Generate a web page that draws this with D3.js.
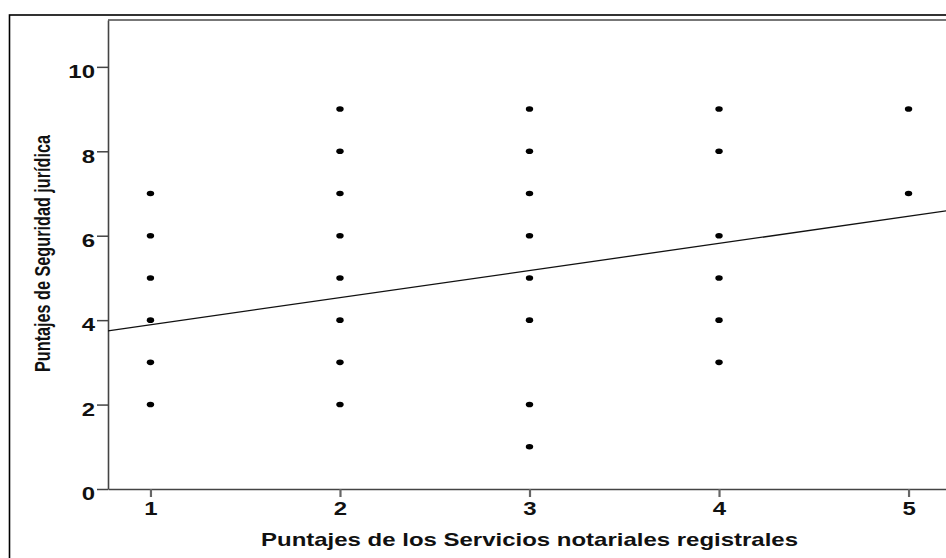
<!DOCTYPE html>
<html>
<head>
<meta charset="utf-8">
<script src="https://cdn.jsdelivr.net/npm/d3@7"></script>
<style>
  html, body { margin: 0; padding: 0; background: #fff; }
  svg { display: block; }
  text { font-family: "Liberation Sans", Arial, sans-serif; font-weight: bold; fill: #111; }
</style>
</head>
<body>
<svg id="chart" width="946" height="558"></svg>
<script>
// Observed scores: service score (x) and legal-certainty score (y)
const servicios = [1, 1, 1, 1, 1, 1,
                   2, 2, 2, 2, 2, 2, 2, 2,
                   3, 3, 3, 3, 3, 3, 3, 3,
                   4, 4, 4, 4, 4, 4,
                   5, 5];
const seguridad = [2, 3, 4, 5, 6, 7,
                   2, 3, 4, 5, 6, 7, 8, 9,
                   1, 2, 4, 5, 6, 7, 8, 9,
                   3, 4, 5, 6, 8, 9,
                   7, 9];

// Fitted linear trend: seguridad = intercepto + pendiente * servicios
const intercepto = 3.25;
const pendiente = 0.642;

const xTicks = [1, 2, 3, 4, 5];
const yTicks = [0, 2, 4, 6, 8, 10];
const xDomain = [0.776, 5.224];
const yDomain = [0, 11.11];

const xTitle = "Puntajes de los Servicios notariales registrales";
const yTitle = "Puntajes de Seguridad jurídica";

const svg = d3.select("#chart");
const W = 946, H = 558;
const plot = { left: 108, top: 20, right: 951, bottom: 489 };
const stretch = 1.33;

const x = d3.scaleLinear().domain(xDomain).range([plot.left, plot.right]);
const y = d3.scaleLinear().domain(yDomain).range([plot.bottom, plot.top]);

svg.append("rect").attr("width", W).attr("height", H).attr("fill", "#fff");

// Outer frame
svg.append("rect")
  .attr("x", 9.5).attr("y", 15)
  .attr("width", 960).attr("height", 560)
  .attr("fill", "none").attr("stroke", "#000").attr("stroke-width", 1.6);

// Plot frame top edge
svg.append("line")
  .attr("x1", plot.left).attr("x2", plot.right)
  .attr("y1", plot.top).attr("y2", plot.top)
  .attr("stroke", "#777").attr("stroke-width", 2);

// Widen glyphs horizontally
function widen(sel, k) {
  sel.each(function () {
    const w = this.getComputedTextLength();
    d3.select(this).attr("textLength", w * k).attr("lengthAdjust", "spacingAndGlyphs");
  });
}

const tickFont = 18;

// Y axis
const yAxis = d3.axisLeft(y).tickValues(yTicks).tickSize(11).tickSizeOuter(0)
  .tickPadding(2).tickFormat(d3.format("d"));
const gy = svg.append("g").attr("transform", `translate(${plot.left},0)`).call(yAxis);
gy.select(".domain").attr("stroke", "#444").attr("stroke-width", 1.6);
gy.selectAll(".tick line").attr("stroke", "#444").attr("stroke-width", 1.5);
gy.selectAll(".tick text")
  .attr("font-size", tickFont).attr("font-family", "Liberation Sans, Arial, sans-serif")
  .attr("font-weight", "bold").attr("fill", "#111")
  .attr("dy", "0.6em").call(widen, stretch);

// X axis
const xAxis = d3.axisBottom(x).tickValues(xTicks).tickSize(8).tickSizeOuter(0)
  .tickPadding(5).tickFormat(d3.format("d"));
const gx = svg.append("g").attr("transform", `translate(0,${plot.bottom})`).call(xAxis);
gx.select(".domain").attr("stroke", "#444").attr("stroke-width", 1.6);
gx.selectAll(".tick line").attr("stroke", "#666").attr("stroke-width", 2.2);
gx.selectAll(".tick text")
  .attr("font-size", tickFont).attr("font-family", "Liberation Sans, Arial, sans-serif")
  .attr("font-weight", "bold").attr("fill", "#111")
  .call(widen, stretch);

// Regression line
const fit = xDomain.map(v => [v, intercepto + pendiente * v]);
svg.append("path")
  .datum(fit)
  .attr("d", d3.line().x(d => x(d[0])).y(d => y(d[1])))
  .attr("fill", "none").attr("stroke", "#111").attr("stroke-width", 1.3);

// Points
svg.append("g").selectAll("ellipse")
  .data(servicios.map((v, i) => [v, seguridad[i]]))
  .join("ellipse")
  .attr("cx", d => x(d[0])).attr("cy", d => y(d[1]))
  .attr("rx", 3.7).attr("ry", 2.8)
  .attr("fill", "#000");

// Axis titles
svg.append("text")
  .attr("x", 529.5).attr("y", 546)
  .attr("text-anchor", "middle").attr("font-size", 18.5)
  .attr("textLength", 537).attr("lengthAdjust", "spacingAndGlyphs")
  .text(xTitle);

svg.append("text")
  .attr("transform", `translate(50,253.5) scale(${stretch},1) rotate(-90)`)
  .attr("text-anchor", "middle").attr("font-size", 16)
  .attr("textLength", 237).attr("lengthAdjust", "spacingAndGlyphs")
  .text(yTitle);
</script>
</body>
</html>
